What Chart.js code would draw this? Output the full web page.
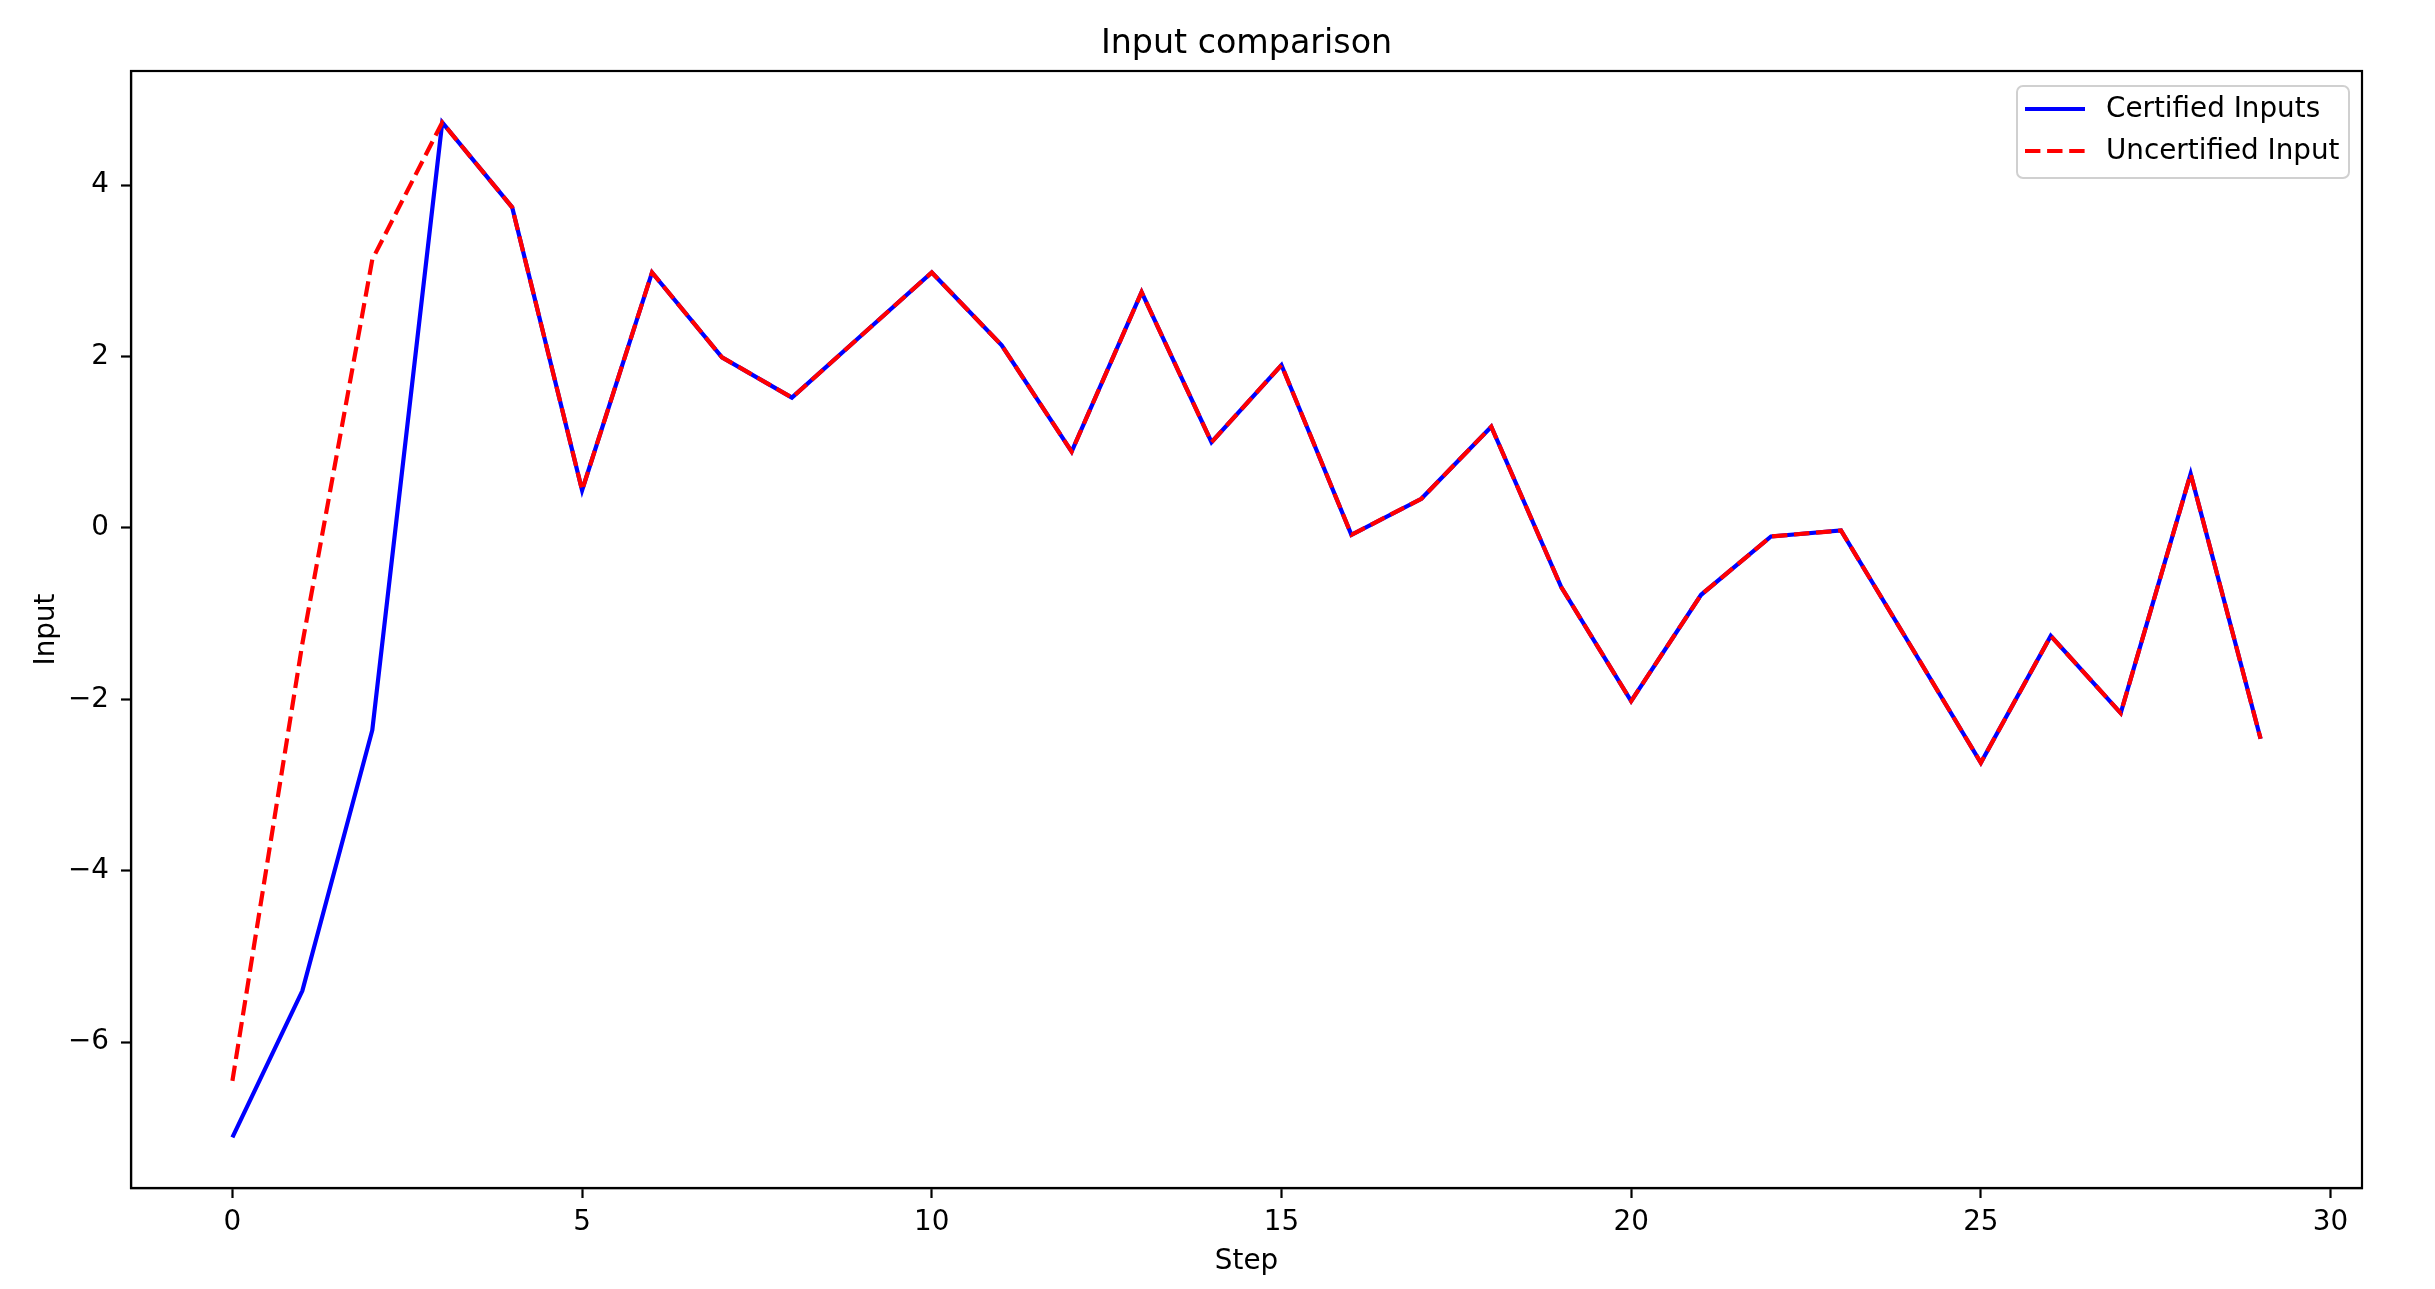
<!DOCTYPE html>
<html>
<head>
<meta charset="utf-8">
<title>Input comparison</title>
<script src="https://cdn.jsdelivr.net/npm/chart.js@4.4.1/dist/chart.umd.min.js"></script>
<style>
  html, body { margin: 0; padding: 0; background: #fff; }
  canvas { display: block; }
</style>
</head>
<body>
<canvas id="inputChart" width="2435" height="1289"></canvas>
<script>
// step index on the x axis
const steps = [0, 1, 2, 3, 4, 5, 6, 7, 8, 9, 10, 11, 12, 13, 14, 15, 16, 17, 18, 19, 20, 21, 22, 23, 24, 25, 26, 27, 28, 29];

// series values
const certifiedInputs = [-7.11, -5.40, -2.36, 4.73, 3.74, 0.44, 2.98, 1.99, 1.52, 2.25, 2.98, 2.13, 0.89, 2.75, 1.00, 1.90, -0.08, 0.34, 1.18, -0.69, -2.02, -0.78, -0.10, -0.03, -1.38, -2.74, -1.26, -2.16, 0.63, -2.46];
const uncertifiedInput = [-6.45, -1.35, 3.13, 4.73, 3.74, 0.44, 2.98, 1.99, 1.52, 2.25, 2.98, 2.13, 0.89, 2.75, 1.00, 1.90, -0.08, 0.34, 1.18, -0.69, -2.02, -0.78, -0.10, -0.03, -1.38, -2.74, -1.26, -2.16, 0.63, -2.46];

// tick values and labels
const xTicks = [0, 5, 10, 15, 20, 25, 30];
const xTickLabels = ["0", "5", "10", "15", "20", "25", "30"];
const yTicks = [-6, -4, -2, 0, 2, 4];
const yTickLabels = ["\u22126", "\u22124", "\u22122", "0", "2", "4"];

const chartTitle = "Input comparison";

const FONT = "'DejaVu Sans', 'Liberation Sans', sans-serif";
const TICK_PX = 27.8;

// box round the plot area (matplotlib style spines) + title centred over the axes
const frame = {
  id: "frame",
  afterDraw(chart) {
    const { ctx, chartArea: a } = chart;
    ctx.save();
    ctx.strokeStyle = "#000";
    ctx.lineWidth = 2.2;
    ctx.strokeRect(a.left, a.top, a.right - a.left, a.bottom - a.top);

    ctx.fillStyle = "#000";
    ctx.font = "33.3px " + FONT;
    ctx.textAlign = "center";
    ctx.textBaseline = "middle";
    ctx.fillText(chartTitle, (a.left + a.right) / 2, 44);
    ctx.restore();
  },
};

// legend drawn inside the plot, upper right
const insideLegend = {
  id: "insideLegend",
  afterDraw(chart) {
    const { ctx, chartArea: a } = chart;
    const w = 332, h = 92;
    const x = a.right - 13 - w;
    const y = a.top + 15;
    ctx.save();
    ctx.beginPath();
    ctx.roundRect(x, y, w, h, 6);
    ctx.fillStyle = "rgba(255,255,255,0.8)";
    ctx.fill();
    ctx.strokeStyle = "#d0d0d0";
    ctx.lineWidth = 2;
    ctx.stroke();

    ctx.font = TICK_PX + "px " + FONT;
    ctx.textBaseline = "middle";
    ctx.fillStyle = "#000";
    chart.data.datasets.forEach((ds, i) => {
      const rowY = y + 23 + i * 42;
      ctx.beginPath();
      ctx.strokeStyle = ds.borderColor;
      ctx.lineWidth = ds.borderWidth;
      ctx.setLineDash(ds.borderDash || []);
      ctx.moveTo(x + 8, rowY);
      ctx.lineTo(x + 68, rowY);
      ctx.stroke();
      ctx.setLineDash([]);
      ctx.fillText(ds.label, x + 89, rowY + 1);
    });
    ctx.restore();
  },
};

new Chart("inputChart", {
  type: "line",
  data: {
    labels: steps,
    datasets: [
      {
        label: "Certified Inputs",
        data: steps.map((s, i) => ({ x: s, y: certifiedInputs[i] })),
        borderColor: "#0000ff",
        borderWidth: 4.2,
        pointRadius: 0,
        tension: 0,
        fill: false,
        order: 1,
      },
      {
        label: "Uncertified Input",
        data: steps.map((s, i) => ({ x: s, y: uncertifiedInput[i] })),
        borderColor: "#ff0000",
        borderWidth: 4.2,
        borderDash: [15.4, 6.7],
        pointRadius: 0,
        tension: 0,
        fill: false,
        order: 0,
      },
    ],
  },
  options: {
    responsive: false,
    animation: false,
    layout: {
      padding: { top: 71, right: 73, bottom: 0, left: 0 },
    },
    plugins: {
      legend: { display: false },
      tooltip: { enabled: false },
      title: { display: false },
    },
    scales: {
      x: {
        type: "linear",
        min: -1.45,
        max: 30.45,
        afterFit(scale) {
          scale.height = 101;
        },
        afterBuildTicks(scale) {
          scale.ticks = xTicks.map((v) => ({ value: v }));
        },
        grid: {
          display: true,
          drawOnChartArea: false,
          drawTicks: true,
          tickLength: 10,
          tickWidth: 2.2,
          tickColor: "#000",
        },
        border: { display: true, color: "#000", width: 2.2 },
        ticks: {
          color: "#000",
          padding: 8,
          maxRotation: 0,
          autoSkip: false,
          font: { family: FONT, size: TICK_PX },
          callback: (v) => xTickLabels[xTicks.indexOf(v)],
        },
        title: {
          display: true,
          text: "Step",
          color: "#000",
          font: { family: FONT, size: TICK_PX },
          padding: { top: 0, bottom: 11 },
        },
      },
      y: {
        type: "linear",
        min: -7.70,
        max: 5.33,
        afterFit(scale) {
          scale.width = 131;
        },
        afterBuildTicks(scale) {
          scale.ticks = yTicks.map((v) => ({ value: v }));
        },
        grid: {
          display: true,
          drawOnChartArea: false,
          drawTicks: true,
          tickLength: 10,
          tickWidth: 2.2,
          tickColor: "#000",
        },
        border: { display: true, color: "#000", width: 2.2 },
        ticks: {
          color: "#000",
          padding: 12,
          autoSkip: false,
          font: { family: FONT, size: TICK_PX },
          callback: (v) => yTickLabels[yTicks.indexOf(v)],
        },
        title: {
          display: true,
          text: "Input",
          color: "#000",
          font: { family: FONT, size: TICK_PX },
          padding: { top: 30, bottom: 0 },
        },
      },
    },
  },
  plugins: [frame, insideLegend],
});
</script>
</body>
</html>
